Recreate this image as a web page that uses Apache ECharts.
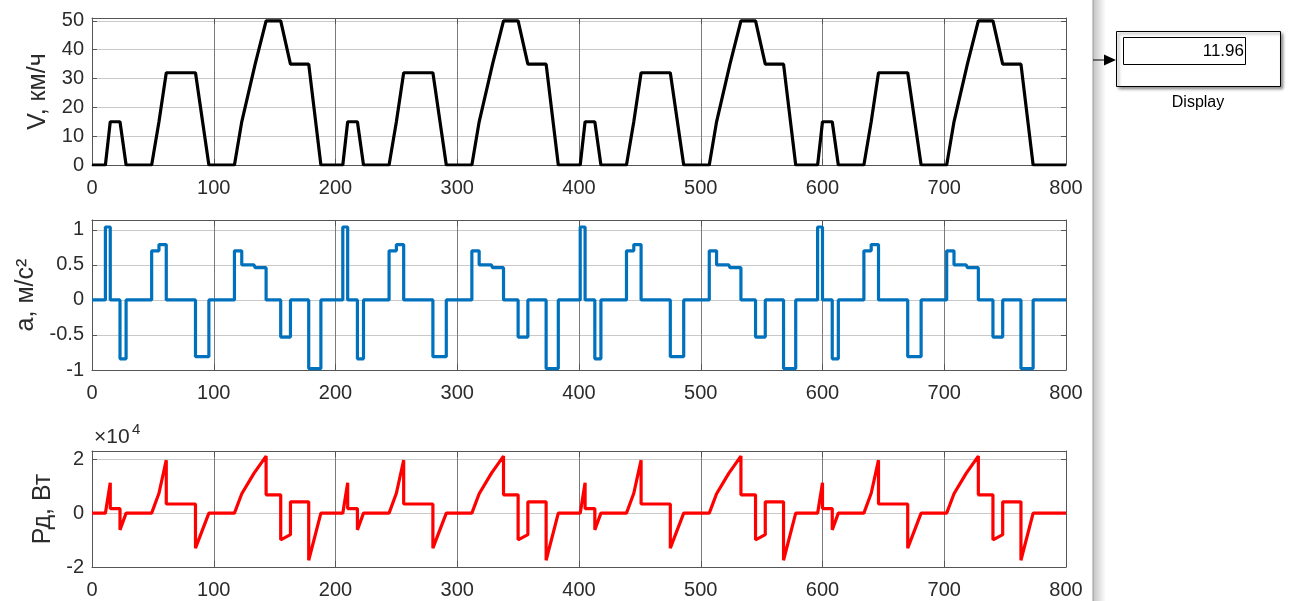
<!DOCTYPE html>
<html>
<head>
<meta charset="utf-8">
<script src="https://cdn.jsdelivr.net/npm/echarts@6/dist/echarts.min.js"></script>
<style>
  html, body { margin: 0; padding: 0; background: #fff; }
  #main { width: 1290px; height: 601px; }
</style>
</head>
<body>
<div id="main"></div>
<script>
// speed, km/h (breakpoints of the drive cycle)
const vTime = [0, 11, 15, 23, 28, 49, 55, 61, 85, 96, 117, 123, 134, 143, 155, 163, 178, 188,
  206, 210, 218, 223, 244, 250, 256, 280, 291, 312, 318, 329, 338, 350, 358, 373, 383,
  401, 405, 413, 418, 439, 445, 451, 475, 486, 507, 513, 524, 533, 545, 553, 568, 578,
  596, 600, 608, 613, 634, 640, 646, 670, 681, 702, 708, 719, 728, 740, 748, 763, 773, 800]
const vSpeed = [0, 0, 15, 15, 0, 0, 15, 32, 32, 0, 0, 15, 35, 50, 50, 35, 35, 0,
  0, 15, 15, 0, 0, 15, 32, 32, 0, 0, 15, 35, 50, 50, 35, 35, 0,
  0, 15, 15, 0, 0, 15, 32, 32, 0, 0, 15, 35, 50, 50, 35, 35, 0,
  0, 15, 15, 0, 0, 15, 32, 32, 0, 0, 15, 35, 50, 50, 35, 35, 0, 0]

// acceleration, m/s^2 (level held from each time until the next one)
const aTime = [0,
  11, 15, 23, 28, 49, 55, 61, 85, 96, 117, 123, 133, 134, 143, 155, 163, 178, 188,
  206, 210, 218, 223, 244, 250, 256, 280, 291, 312, 318, 328, 329, 338, 350, 358, 373, 383,
  401, 405, 413, 418, 439, 445, 451, 475, 486, 507, 513, 523, 524, 533, 545, 553, 568, 578,
  596, 600, 608, 613, 634, 640, 646, 670, 681, 702, 708, 718, 719, 728, 740, 748, 763, 773,
  800]
const aValue = [0,
  1.04, 0, -0.84, 0, 0.70, 0.79, 0, -0.81, 0, 0.70, 0.50, 0.52, 0.46, 0, -0.53, 0, -0.98, 0,
  1.04, 0, -0.84, 0, 0.70, 0.79, 0, -0.81, 0, 0.70, 0.50, 0.52, 0.46, 0, -0.53, 0, -0.98, 0,
  1.04, 0, -0.84, 0, 0.70, 0.79, 0, -0.81, 0, 0.70, 0.50, 0.52, 0.46, 0, -0.53, 0, -0.98, 0,
  1.04, 0, -0.84, 0, 0.70, 0.79, 0, -0.81, 0, 0.70, 0.50, 0.52, 0.46, 0, -0.53, 0, -0.98, 0,
  0]

// motor power, W
const pTime = [0,
  11, 15, 15, 23, 23, 28, 49, 55, 61, 61, 85, 85, 96, 117, 123, 123, 133, 133, 134, 134, 143, 143, 155, 155, 163, 163, 178, 178, 188,
  206, 210, 210, 218, 218, 223, 244, 250, 256, 256, 280, 280, 291, 312, 318, 318, 328, 328, 329, 329, 338, 338, 350, 350, 358, 358, 373, 373, 383,
  401, 405, 405, 413, 413, 418, 439, 445, 451, 451, 475, 475, 486, 507, 513, 513, 523, 523, 524, 524, 533, 533, 545, 545, 553, 553, 568, 568, 578,
  596, 600, 600, 608, 608, 613, 634, 640, 646, 646, 670, 670, 681, 702, 708, 708, 718, 718, 719, 719, 728, 728, 740, 740, 748, 748, 763, 763, 773,
  800]
const pValue = [0,
  0, 11300, 1700, 1700, -6200, 0, 0, 7400, 19700, 3400, 3400, -13000, 0, 0, 7200, 6800, 14800, 15400, 15400, 14900, 21200, 6800, 6800, -9900, -8000, 4200, 4200, -17500, 0,
  0, 11300, 1700, 1700, -6200, 0, 0, 7400, 19700, 3400, 3400, -13000, 0, 0, 7200, 6800, 14800, 15400, 15400, 14900, 21200, 6800, 6800, -9900, -8000, 4200, 4200, -17500, 0,
  0, 11300, 1700, 1700, -6200, 0, 0, 7400, 19700, 3400, 3400, -13000, 0, 0, 7200, 6800, 14800, 15400, 15400, 14900, 21200, 6800, 6800, -9900, -8000, 4200, 4200, -17500, 0,
  0, 11300, 1700, 1700, -6200, 0, 0, 7400, 19700, 3400, 3400, -13000, 0, 0, 7200, 6800, 14800, 15400, 15400, 14900, 21200, 6800, 6800, -9900, -8000, 4200, 4200, -17500, 0,
  0]

const displayValue = '11.96'

const FONT = '"Liberation Sans", Arial, Helvetica, sans-serif'
const boxColor = '#555'
const textColor = '#2b2b2b'

const zip = (xs, ys) => xs.map((x, i) => [x, ys[i]])

const chart = echarts.init(document.getElementById('main'), null, { width: 1290, height: 601 })

const grids = [
  { left: 92, top: 18, width: 974, height: 147 },
  { left: 92, top: 220, width: 974, height: 150 },
  { left: 92, top: 451, width: 974, height: 116 }
]

const xAxes = []
grids.forEach((g, i) => {
  xAxes.push({
    gridIndex: i, type: 'value', min: 0, max: 800, interval: 100, position: 'bottom',
    axisLine: { onZero: false, lineStyle: { color: boxColor } },
    axisTick: { inside: true, length: 6, lineStyle: { color: boxColor } },
    axisLabel: { margin: 13, fontSize: 20, color: textColor, fontFamily: FONT },
    splitLine: { show: true, lineStyle: { color: '#7a7a7a', width: 1 } }
  })
  xAxes.push({
    gridIndex: i, type: 'value', min: 0, max: 800, interval: 100, position: 'top',
    axisLine: { onZero: false, lineStyle: { color: boxColor } },
    axisTick: { inside: true, length: 6, lineStyle: { color: boxColor } },
    axisLabel: { show: false },
    splitLine: { show: false }
  })
})

const yDefs = [
  { min: 0, max: 51, interval: 10, name: 'V, км/ч', gap: 36, fmt: (v) => (v % 10 === 0 ? String(v) : '') },
  { min: -1, max: 1.14, interval: 0.5, name: 'a, м/с²', gap: 50,
    fmt: (v) => (Math.abs(v * 2 - Math.round(v * 2)) < 1e-6 ? String(v) : '') },
  { min: -20000, max: 23100, interval: 20000, name: 'Рд, Вт', gap: 33,
    fmt: (v) => (v % 20000 === 0 ? String(v / 10000) : '') }
]

const yAxes = []
yDefs.forEach((d, i) => {
  yAxes.push({
    gridIndex: i, type: 'value', min: d.min, max: d.max, interval: d.interval, position: 'left',
    name: d.name, nameLocation: 'middle', nameGap: d.gap,
    nameTextStyle: { fontSize: 25, color: textColor, fontFamily: FONT },
    axisLine: { show: true, onZero: false, lineStyle: { color: boxColor } },
    axisTick: { show: true, inside: true, length: 5, lineStyle: { color: boxColor } },
    axisLabel: { margin: 8, fontSize: 20, color: textColor, fontFamily: FONT, formatter: d.fmt },
    splitLine: { show: true, lineStyle: { color: '#c9c9c9', width: 1 } }
  })
  yAxes.push({
    gridIndex: i, type: 'value', min: d.min, max: d.max, interval: d.interval, position: 'right',
    axisLine: { show: true, onZero: false, lineStyle: { color: boxColor } },
    axisTick: { show: true, inside: true, length: 5, lineStyle: { color: boxColor } },
    axisLabel: { show: false },
    splitLine: { show: false }
  })
})

const option = {
  animation: false,
  backgroundColor: '#fff',
  grid: grids,
  xAxis: xAxes,
  yAxis: yAxes,
  series: [
    {
      type: 'line', xAxisIndex: 0, yAxisIndex: 0, showSymbol: false,
      lineStyle: { color: '#000', width: 3.2 },
      data: zip(vTime, vSpeed)
    },
    {
      type: 'line', xAxisIndex: 2, yAxisIndex: 2, showSymbol: false, step: 'end',
      lineStyle: { color: '#0072BD', width: 3.2 },
      data: zip(aTime, aValue)
    },
    {
      type: 'line', xAxisIndex: 4, yAxisIndex: 4, showSymbol: false,
      lineStyle: { color: '#ff0000', width: 3.2 },
      data: zip(pTime, pValue)
    }
  ],
  graphic: [
    // exponent label of the power axis
    { type: 'text', left: 94, top: 427, style: { text: '×10', fontSize: 21, fontFamily: FONT, fill: textColor } },
    { type: 'text', left: 132, top: 422, style: { text: '4', fontSize: 15, fontFamily: FONT, fill: textColor } },
    // Simulink panel separator
    {
      type: 'rect', shape: { x: 1093, y: 0, width: 13, height: 601 },
      style: {
        fill: new echarts.graphic.LinearGradient(0, 0, 1, 0, [
          { offset: 0, color: '#c4c4c4' },
          { offset: 1, color: '#ffffff' }
        ])
      }
    },
    { type: 'line', shape: { x1: 1093, y1: 0, x2: 1093, y2: 601 }, style: { stroke: '#9a9a9a', lineWidth: 1 } },
    // signal line and arrow
    { type: 'line', shape: { x1: 1093, y1: 60, x2: 1106, y2: 60 }, style: { stroke: '#000', lineWidth: 1 } },
    { type: 'polygon', shape: { points: [[1104, 54.5], [1116, 60], [1104, 65.5]] }, style: { fill: '#000' } },
    // Display block
    {
      type: 'rect', shape: { x: 1116.5, y: 31.5, width: 164, height: 55 },
      style: { fill: '#fff', stroke: '#000', lineWidth: 1, shadowBlur: 3, shadowOffsetX: 2, shadowOffsetY: 2, shadowColor: 'rgba(0,0,0,0.45)' }
    },
    { type: 'rect', shape: { x: 1123.5, y: 37.5, width: 122, height: 27 }, style: { fill: '#fff', stroke: '#000', lineWidth: 1 } },
    {
      type: 'text', x: 1244, y: 51,
      style: { text: displayValue, fontSize: 17, fontFamily: FONT, fill: '#000', align: 'right', verticalAlign: 'middle' }
    },
    {
      type: 'text', x: 1198, y: 103,
      style: { text: 'Display', fontSize: 16, fontFamily: FONT, fill: '#000', align: 'center', verticalAlign: 'middle' }
    }
  ]
}

option && chart.setOption(option)
</script>
</body>
</html>
